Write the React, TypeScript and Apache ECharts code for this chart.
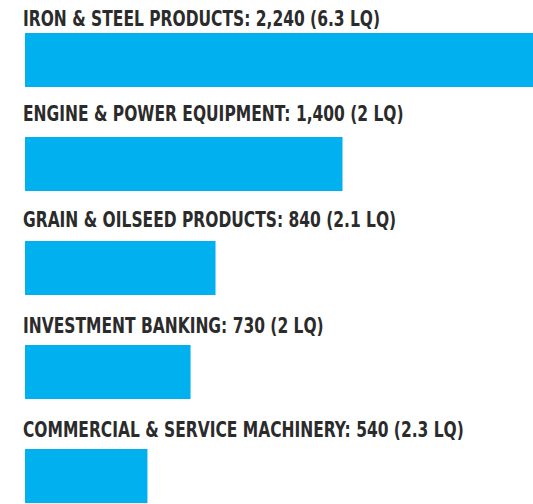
import React, { useEffect, useRef } from "react";
import * as echarts from "echarts";

const industries = [
  "IRON & STEEL PRODUCTS",
  "ENGINE & POWER EQUIPMENT",
  "GRAIN & OILSEED PRODUCTS",
  "INVESTMENT BANKING",
  "COMMERCIAL & SERVICE MACHINERY",
];
const jobs = [2240, 1400, 840, 730, 540];
const lq = ["6.3", "2", "2.1", "2", "2.3"];

// style: gap (px) between label baseline and bar top
const LABEL_GAP = [8, 17, 15, 13, 13];
const BAR_W = 54;

export default function App() {
  const ref = useRef<HTMLDivElement>(null);
  useEffect(() => {
    document.body.style.margin = "0";
    const chart = echarts.init(ref.current!, undefined, { renderer: "svg" });
    chart.setOption({
      animation: false,
      grid: { left: 25, right: 0, top: 8, bottom: -24, outerBoundsMode: "none", containLabel: false },
      xAxis: { type: "value", min: 0, max: 2240, show: false },
      yAxis: {
        type: "category",
        data: industries,
        inverse: true,
        show: false,
      },
      series: [
        {
          type: "bar",
          data: jobs,
          barWidth: BAR_W,
          itemStyle: { color: "#00b0ef" },
        },
        {
          type: "custom",
          clip: false,
          data: jobs.map((v, i) => [v, i]),
          encode: { x: 0, y: 1 },
          renderItem: (params: any, api: any) => {
            const i = params.dataIndex;
            const p = api.coord([0, i]);
            const barTop = p[1] - BAR_W / 2;
            return {
              type: "text",
              x: p[0] - 2,
              y: barTop - LABEL_GAP[i] + 4,
              scaleX: 0.84,
              style: {
                text: `${industries[i]}: ${jobs[i].toLocaleString("en-US")} (${lq[i]} LQ)`,
                fontFamily: "DejaVu Sans Condensed",
                fontSize: 20.5,
                fontWeight: "bold",
                fill: "#2b2b2b",
                align: "left",
                verticalAlign: "bottom",
              },
            };
          },
        },
      ],
    });
    return () => chart.dispose();
  }, []);
  return <div ref={ref} style={{ position: "absolute", left: 0, top: 0, width: 533, height: 504 }} />;
}
